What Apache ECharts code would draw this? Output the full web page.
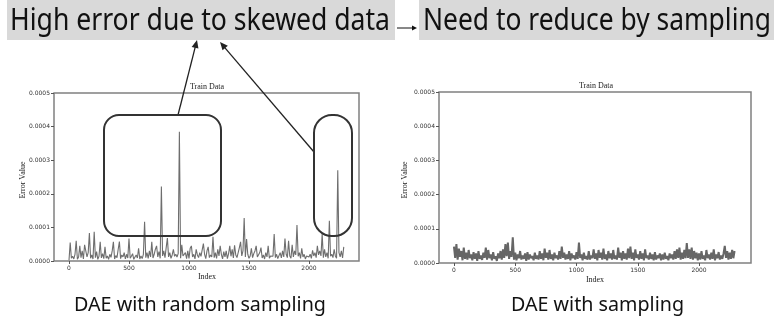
<!DOCTYPE html>
<html>
<head>
<meta charset="utf-8">
<script src="https://cdn.jsdelivr.net/npm/echarts@6/dist/echarts.min.js"></script>
<style>
html,body{margin:0;padding:0;background:#fff;}
#c{width:774px;height:329px;}
</style>
</head>
<body>
<div id="c"></div>
<script>
// ---- data (error values in units of 1e-6) ----
var indexStep = 10;
var xTickValues = [0, 500, 1000, 1500, 2000];
var yTickValues = [0, 100, 200, 300, 400, 500];
var bannerLeft = 'High error due to skewed data';
var bannerRight = 'Need to reduce by sampling';
var captionLeft = 'DAE with random sampling';
var captionRight = 'DAE with sampling';
var chartTitle = 'Train Data';
var xName = 'Index';
var yName = 'Error Value';

var randomSamplingError = [
  2, 55, 8, 14, 6, 20, 60, 5, 12, 45,
  10, 30, 6, 48, 52, 12, 25, 83, 8, 18,
  6, 87, 10, 28, 5, 14, 57, 9, 22, 7,
  42, 8, 15, 5, 20, 11, 30, 57, 6, 16,
  10, 35, 58, 7, 18, 12, 25, 6, 20, 9,
  67, 8, 14, 22, 5, 12, 18, 9, 38, 6,
  15, 7, 20, 117, 10, 25, 8, 30, 12, 57,
  9, 20, 35, 45, 12, 28, 8, 222, 15, 30,
  10, 40, 68, 12, 25, 8, 18, 35, 14, 20,
  12, 22, 385, 8, 48, 15, 10, 25, 7, 30,
  8, 38, 45, 12, 20, 6, 35, 18, 10, 25,
  14, 9, 52, 20, 7, 30, 42, 10, 18, 12,
  72, 10, 25, 8, 35, 15, 45, 20, 6, 28,
  12, 30, 7, 22, 45, 14, 35, 9, 47, 18,
  10, 25, 40, 57, 15, 30, 128, 12, 65, 20,
  8, 15, 38, 10, 22, 30, 45, 12, 7, 25,
  40, 9, 18, 6, 25, 12, 45, 8, 15, 10,
  14, 80, 10, 20, 7, 16, 25, 9, 30, 12,
  67, 20, 10, 60, 15, 8, 48, 12, 30, 18,
  107, 14, 25, 8, 38, 12, 20, 6, 15, 10,
  12, 20, 8, 32, 15, 25, 10, 45, 18, 30,
  15, 80, 10, 35, 12, 25, 8, 120, 14, 20,
  10, 35, 15, 8, 270, 25, 12, 30, 9, 42
];

var samplingError = [
  48, 15, 55, 10, 42, 18, 35, 8, 45, 12,
  30, 10, 38, 14, 25, 8, 32, 12, 28, 6,
  35, 12, 22, 9, 30, 15, 45, 10, 38, 14,
  25, 8, 32, 12, 20, 6, 28, 14, 35, 10,
  40, 15, 55, 20, 60, 12, 35, 18, 75, 10,
  30, 8, 25, 14, 35, 10, 22, 12, 28, 6,
  32, 10, 25, 14, 20, 8, 30, 12, 22, 10,
  35, 12, 28, 8, 42, 15, 30, 10, 38, 12,
  25, 8, 30, 14, 22, 10, 35, 12, 48, 15,
  30, 10, 25, 12, 35, 8, 28, 14, 22, 10,
  32, 12, 60, 15, 25, 8, 30, 12, 20, 10,
  35, 10, 22, 14, 40, 12, 28, 8, 38, 15,
  30, 10, 42, 12, 25, 8, 35, 14, 28, 10,
  38, 12, 22, 10, 45, 15, 30, 8, 35, 12,
  28, 10, 42, 14, 48, 12, 30, 8, 40, 15,
  25, 10, 35, 12, 28, 8, 40, 14, 22, 10,
  30, 12, 25, 8, 32, 10, 22, 14, 28, 8,
  25, 10, 30, 12, 20, 8, 28, 14, 25, 10,
  35, 12, 40, 15, 45, 10, 30, 12, 38, 14,
  58, 15, 40, 12, 45, 10, 35, 14, 30, 8,
  28, 10, 35, 12, 22, 8, 38, 14, 25, 10,
  30, 12, 40, 8, 25, 14, 32, 10, 22, 12,
  28, 50, 15, 35, 10, 30, 12, 38, 14, 35
];

// ---- build ----
function pairs(vals){ return vals.map(function(v,i){ return [i*indexStep, v]; }); }

var chart = echarts.init(document.getElementById('c'), null, {renderer:'canvas'});

var serif = '"Liberation Serif", "DejaVu Serif", serif';
var sans = '"DejaVu Sans", sans-serif';
var uiFont = '"Noto Sans", "Open Sans", sans-serif';

var measureCtx = document.createElement('canvas').getContext('2d');
function fitText(text, left, cy, size, targetW, color){
  measureCtx.font = size + 'px ' + uiFont;
  var w = measureCtx.measureText(text).width;
  return {type:'text', x:left, y:cy, scaleX: targetW / w, silent:true,
    style:{text:text, fontSize:size, fontFamily:uiFont, fill:color||'#111', textAlign:'left', textVerticalAlign:'middle'}};
}
function arrow(x1,y1,x2,y2,len,hw,color,lw){
  var dx=x2-x1, dy=y2-y1, L=Math.hypot(dx,dy), ux=dx/L, uy=dy/L;
  var bx=x2-ux*len, by=y2-uy*len;
  return [
    {type:'line', shape:{x1:x1,y1:y1,x2:bx+ux*1,y2:by+uy*1}, style:{stroke:color, lineWidth:lw}, silent:true},
    {type:'polygon', shape:{points:[[x2,y2],[bx-uy*hw,by+ux*hw],[bx+uy*hw,by-ux*hw]]}, style:{fill:color}, silent:true}
  ];
}

function xAxisCfg(gi, min, max){
  return {type:'value', gridIndex:gi, min:min, max:max,
    axisLine:{show:false, onZero:false},
    axisTick:{show:true, customValues:xTickValues, length:3, lineStyle:{color:'#555', width:1}},
    axisLabel:{customValues:xTickValues, fontSize:6, fontFamily:sans, color:'#333', margin:4,
      formatter:function(v){ return String(v); }},
    splitLine:{show:false}};
}
function yAxisCfg(gi){
  return {type:'value', gridIndex:gi, min:0, max:500, interval:100,
    axisLine:{show:false, onZero:false},
    axisTick:{show:true, length:3, lineStyle:{color:'#555', width:1}},
    axisLabel:{fontSize:6, fontFamily:sans, color:'#333', margin:4,
      formatter:function(v){ return (v/1e6).toFixed(4); }},
    splitLine:{show:false}};
}

var graphics = [];
// banner
graphics.push({type:'rect', shape:{x:7,y:0,width:388,height:40}, style:{fill:'#d9d9d9'}, silent:true});
graphics.push({type:'rect', shape:{x:419,y:0,width:355,height:40}, style:{fill:'#d9d9d9'}, silent:true});
graphics.push(fitText(bannerLeft, 10, 21, 31, 380));
graphics.push(fitText(bannerRight, 423, 21, 31, 348));
graphics = graphics.concat(arrow(397,28,417,28,5,2.5,'#111',1));
// titles / axis names
graphics.push({type:'text', x:207, y:87, silent:true, style:{text:chartTitle, fontSize:8, fontFamily:serif, fill:'#222', textAlign:'center', textVerticalAlign:'middle'}});
graphics.push({type:'text', x:596, y:86, silent:true, style:{text:chartTitle, fontSize:8, fontFamily:serif, fill:'#222', textAlign:'center', textVerticalAlign:'middle'}});
graphics.push({type:'text', x:207, y:277, silent:true, style:{text:xName, fontSize:8, fontFamily:serif, fill:'#222', textAlign:'center', textVerticalAlign:'middle'}});
graphics.push({type:'text', x:595, y:280, silent:true, style:{text:xName, fontSize:8, fontFamily:serif, fill:'#222', textAlign:'center', textVerticalAlign:'middle'}});
graphics.push({type:'text', x:23, y:180, rotation:Math.PI/2, silent:true, style:{text:yName, fontSize:8, fontFamily:serif, fill:'#222', textAlign:'center', textVerticalAlign:'middle'}});
graphics.push({type:'text', x:405, y:180, rotation:Math.PI/2, silent:true, style:{text:yName, fontSize:8, fontFamily:serif, fill:'#222', textAlign:'center', textVerticalAlign:'middle'}});
// annotation boxes
graphics.push({type:'rect', shape:{x:104,y:115,width:117,height:121,r:15}, style:{fill:'none', stroke:'#333', lineWidth:2}, silent:true, z:100});
graphics.push({type:'rect', shape:{x:314,y:115,width:38,height:121,r:18}, style:{fill:'none', stroke:'#333', lineWidth:2}, silent:true, z:100});
graphics = graphics.concat(arrow(178,115,197,40,8,3.5,'#222',1.3));
graphics = graphics.concat(arrow(314,152,220,42,8,3.5,'#222',1.3));
// captions
graphics.push(fitText(captionLeft, 74, 306, 19, 252));
graphics.push(fitText(captionRight, 511, 306, 19, 173));

var option = {
  animation:false,
  backgroundColor:'#fff',
  grid:[
    {left:54, top:93, width:305, height:168, show:true, borderColor:'#808080', borderWidth:1.5, backgroundColor:'transparent'},
    {left:439, top:92, width:312, height:171, show:true, borderColor:'#808080', borderWidth:1.5, backgroundColor:'transparent'}
  ],
  xAxis:[ xAxisCfg(0, -125, 2417), xAxisCfg(1, -122, 2424) ],
  yAxis:[ yAxisCfg(0), yAxisCfg(1) ],
  series:[
    {type:'line', xAxisIndex:0, yAxisIndex:0, data:pairs(randomSamplingError), showSymbol:false, sampling:null,
      lineStyle:{color:'#6e6e6e', width:1.1}},
    {type:'line', xAxisIndex:1, yAxisIndex:1, data:pairs(samplingError), showSymbol:false,
      lineStyle:{color:'#666', width:2}}
  ],
  graphic:{elements:graphics}
};
chart.setOption(option);
</script>
</body>
</html>
